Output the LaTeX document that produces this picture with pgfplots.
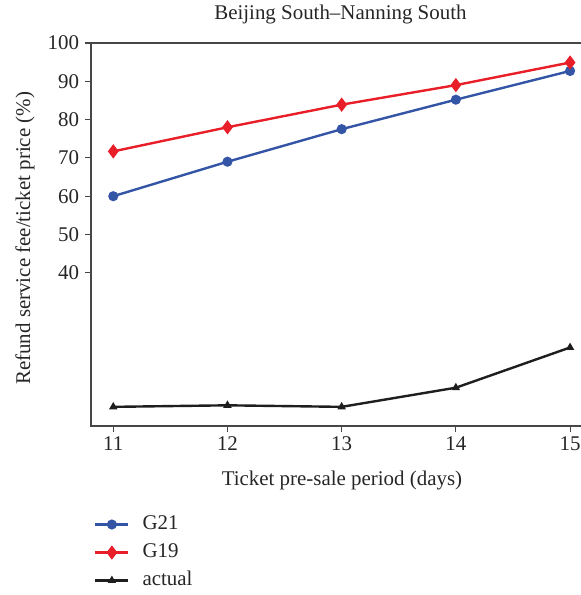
\documentclass[border=0pt]{standalone}
\usepackage{fontspec}
\setmainfont{Liberation Serif}
\usepackage{pgfplots}
\pgfplotsset{compat=1.18}
\definecolor{cblue}{RGB}{52,84,166}
\definecolor{cred}{RGB}{232,30,40}
\definecolor{cblack}{RGB}{30,30,30}
\definecolor{caxis}{RGB}{70,70,70}
\begin{document}
\begin{tikzpicture}
\path[use as bounding box] (-91bp,-169bp) rectangle (490bp,426bp);
\begin{axis}[
  scale only axis,
  width=493bp, height=383bp,
  xmin=10.805, xmax=15.122, ymin=0, ymax=100,
  xtick={11,12,13,14,15},
  ytick={40,50,60,70,80,90,100},
  tick align=outside,
  tick pos=left,
  major tick length=5.5bp,
  axis line style={caxis, line width=1.1bp},
  every tick/.style={caxis, line width=1.1bp},
  font=\fontsize{21}{25}\selectfont,
  tick label style={font=\fontsize{21}{25}\selectfont, text=black!85},
  /pgf/number format/assume math mode=true,
  yticklabel style={xshift=-3bp},
  xticklabel style={yshift=-2bp},
  title={Beijing South–Nanning South},
  title style={at={(axis description cs:0.506,1.058)}, anchor=center, text=black!85},
  xlabel={Ticket pre-sale period (days)},
  xlabel style={at={(axis description cs:0.509,-0.141)}, anchor=center, text=black!85},
  ylabel={Refund service fee/ticket price (\%)},
  ylabel style={at={(axis description cs:-0.134,0.49)}, anchor=center, rotate=0, text=black!85},
  legend cell align=left,
  legend style={draw=none, fill=none, at={(axis description cs:0.0,-0.228)}, anchor=north west,
    font=\fontsize{21}{25}\selectfont, text=black!85,
    nodes={inner sep=0pt, text height=14bp, text depth=4bp},
    row sep=10bp, column sep=13bp},
  legend image code/.code={\draw[mark repeat=2,mark phase=2] plot coordinates {(0bp,0bp) (16.5bp,0bp) (33bp,0bp)};},
]
\addplot[cblue, line width=2.4bp, mark=*, mark size=3.8bp, mark options={solid}] coordinates {
  (11,60.0) (12,69.0) (13,77.5) (14,85.2) (15,92.7)};
\addlegendentry{G21}
\addplot[cred, line width=2.4bp, mark=diamond*, mark size=5.2bp] coordinates {
  (11,71.7) (12,78.0) (13,83.9) (14,89.0) (15,94.9)};
\addlegendentry{G19}
\addplot[cblack, line width=2.4bp, mark=triangle*, mark size=2.5bp] coordinates {
  (11,5.0) (12,5.4) (13,5.0) (14,10.0) (15,20.5)};
\addlegendentry{actual}
\end{axis}
\end{tikzpicture}
\end{document}
